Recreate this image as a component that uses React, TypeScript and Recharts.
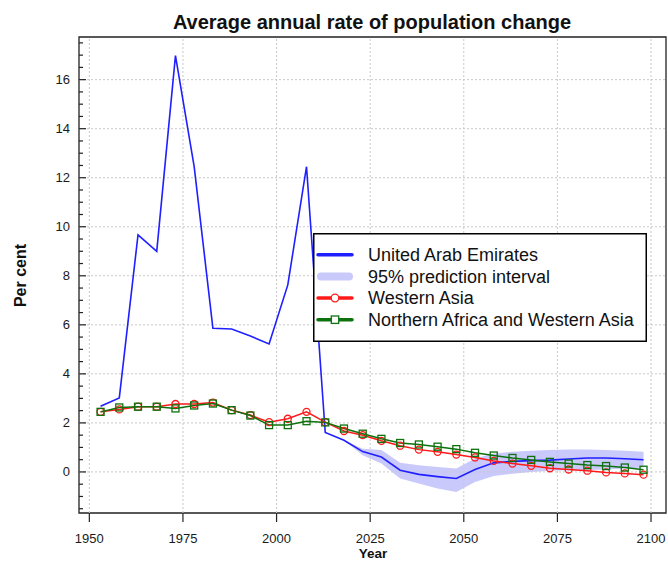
import React from 'react';
import { ComposedChart, Line, Area, XAxis, YAxis, ReferenceLine, ReferenceArea, Legend } from 'recharts';

const FONT = '"Liberation Sans", Arial, Helvetica, sans-serif';

const years = [1953, 1958, 1963, 1968, 1973, 1978, 1983, 1988, 1993, 1998, 2003, 2008, 2013, 2018, 2023, 2028, 2033, 2038, 2043, 2048, 2053, 2058, 2063, 2068, 2073, 2078, 2083, 2088, 2093, 2098];
const uae = [2.68, 3.02, 9.67, 9.0, 16.98, 12.45, 5.86, 5.83, 5.54, 5.22, 7.63, 12.45, 1.61, 1.29, 0.83, 0.61, 0.07, -0.1, -0.19, -0.27, 0.1, 0.37, 0.43, 0.46, 0.48, 0.53, 0.57, 0.57, 0.54, 0.5];
const bandLow: (number | null)[] = [null, null, null, null, null, null, null, null, null, null, null, null, null, 1.29, 0.68, 0.34, -0.27, -0.47, -0.68, -0.82, -0.41, -0.17, -0.07, 0.0, 0.05, 0.07, 0.08, 0.1, 0.14, 0.18];
const bandHigh: (number | null)[] = [null, null, null, null, null, null, null, null, null, null, null, null, null, 1.29, 0.95, 0.89, 0.37, 0.27, 0.2, 0.14, 0.55, 0.75, 0.82, 0.86, 0.89, 0.91, 0.91, 0.89, 0.86, 0.82];
const westernAsia = [2.45, 2.55, 2.66, 2.66, 2.77, 2.77, 2.83, 2.52, 2.32, 2.03, 2.17, 2.45, 2.03, 1.67, 1.5, 1.27, 1.07, 0.91, 0.82, 0.71, 0.59, 0.45, 0.34, 0.25, 0.15, 0.1, 0.05, -0.02, -0.06, -0.11];
const nafwa = [2.45, 2.63, 2.66, 2.66, 2.59, 2.71, 2.79, 2.52, 2.3, 1.91, 1.91, 2.07, 2.02, 1.77, 1.56, 1.35, 1.18, 1.12, 1.03, 0.93, 0.78, 0.67, 0.57, 0.49, 0.41, 0.34, 0.28, 0.24, 0.18, 0.09];

const xTicks = [1950, 1975, 2000, 2025, 2050, 2075, 2100];
const yMajorTicks = [0, 2, 4, 6, 8, 10, 12, 14, 16];
const yAllTicks = [-1.5, -1, -0.5, 0, 0.5, 1, 1.5, 2, 2.5, 3, 3.5, 4, 4.5, 5, 5.5, 6, 6.5, 7, 7.5, 8, 8.5, 9, 9.5, 10, 10.5, 11, 11.5, 12, 12.5, 13, 13.5, 14, 14.5, 15, 15.5, 16, 16.5, 17, 17.5];

const X_DOMAIN: [number, number] = [1947.24, 2104];
const Y_DOMAIN: [number, number] = [-1.675, 17.74];

const BLUE = '#1f1fff';
const RED = '#ff1a1a';
const GREEN = '#0d720d';
const BAND = '#c9c9fb';

const data = years.map((year, i) => ({
  year,
  uae: uae[i],
  band: bandLow[i] == null ? null : [bandLow[i], bandHigh[i]],
  western: westernAsia[i],
  nafwa: nafwa[i],
}));

const YTick = (props: any) => {
  const { x, y, payload } = props;
  const v = payload.value;
  const major = yMajorTicks.includes(v);
  return (
    <g>
      <line x1={x} x2={x + (major ? 7 : 4)} y1={y} y2={y} stroke="#222" strokeWidth={1.2} />
      {major && (
        <text x={x - 9} y={y} dy="0.35em" textAnchor="end" fontSize={13} fill="#1a1a1a" fontFamily={FONT}>
          {v}
        </text>
      )}
    </g>
  );
};

const SquareDot = (props: any) => {
  const { cx, cy, index } = props;
  if (cx == null || cy == null) return <g key={`sq-${index}`} />;
  return <rect key={`sq-${index}`} x={cx - 3.5} y={cy - 3.5} width={7} height={7} fill="none" stroke={GREEN} strokeWidth={1.3} />;
};

const legendRows = [
  { label: 'United Arab Emirates', kind: 'line', color: BLUE },
  { label: '95% prediction interval', kind: 'band', color: BAND },
  { label: 'Western Asia', kind: 'circle', color: RED },
  { label: 'Northern Africa and Western Asia', kind: 'square', color: GREEN },
];

const LegendBox = () => {
  const rowY = [21.7, 43.4, 65.0, 86.7];
  return (
    <svg width={334} height={109} style={{ display: 'block' }}>
      <rect x={0.75} y={0.75} width={332.5} height={107.5} fill="#fff" stroke="#000" strokeWidth={1.5} />
      {legendRows.map((r, i) => {
        const cy = rowY[i];
        return (
          <g key={r.label}>
            {r.kind === 'band' ? (
              <line x1={8} x2={36} y1={cy} y2={cy} stroke={r.color} strokeWidth={8} strokeLinecap="round" />
            ) : (
              <line x1={5} x2={39} y1={cy} y2={cy} stroke={r.color} strokeWidth={3.5} strokeLinecap="round" />
            )}
            {r.kind === 'circle' && <circle cx={22} cy={cy} r={3.8} fill="#fff" stroke={r.color} strokeWidth={1.3} />}
            {r.kind === 'square' && <rect x={18.3} y={cy - 3.7} width={7.4} height={7.4} fill="#fff" stroke={r.color} strokeWidth={1.3} />}
            <text x={55} y={cy} dy="0.35em" fontSize={18} fill="#111" fontFamily={FONT}>
              {r.label}
            </text>
          </g>
        );
      })}
    </svg>
  );
};

export default function App() {
  return (
    <div style={{ position: 'absolute', left: 0, top: 0, width: 668, height: 561, background: '#fff' }}>
      <ComposedChart
        width={668}
        height={561}
        data={data}
        margin={{ top: 37, right: 2, bottom: 0, left: 0 }}
        style={{ position: 'absolute', left: 0, top: 0 }}
      >
        {xTicks.map((t) => (
          <ReferenceLine key={`vx-${t}`} x={t} stroke="#c8c8c8" strokeDasharray="2 2" strokeWidth={1} />
        ))}
        {yMajorTicks.map((t) => (
          <ReferenceLine key={`hy-${t}`} y={t} stroke="#c8c8c8" strokeDasharray="2 2" strokeWidth={1} />
        ))}
        <XAxis
          dataKey="year"
          type="number"
          domain={X_DOMAIN}
          ticks={xTicks}
          allowDataOverflow
          axisLine={false}
          tickLine={{ stroke: '#222', strokeWidth: 1.2 }}
          tickSize={9}
          tickMargin={12}
          height={48}
          interval={0}
          tick={{ fontSize: 13, fill: '#1a1a1a', fontFamily: FONT }}
        />
        <YAxis
          type="number"
          domain={Y_DOMAIN}
          ticks={yAllTicks}
          allowDataOverflow
          axisLine={false}
          tickLine={false}
          tickSize={0}
          tickMargin={0}
          interval={0}
          width={79}
          tick={<YTick />}
        />
        <Area
          dataKey="band"
          type="linear"
          stroke="none"
          fill={BAND}
          fillOpacity={1}
          isAnimationActive={false}
          connectNulls={false}
          legendType="none"
        />
        <Line dataKey="uae" type="linear" stroke={BLUE} strokeWidth={1.6} dot={false} isAnimationActive={false} />
        <Line
          dataKey="western"
          type="linear"
          stroke={RED}
          strokeWidth={1.5}
          dot={{ r: 3.5, stroke: RED, strokeWidth: 1.3, fill: 'none' }}
          isAnimationActive={false}
        />
        <Line dataKey="nafwa" type="linear" stroke={GREEN} strokeWidth={1.5} dot={<SquareDot />} isAnimationActive={false} />
        <ReferenceArea
          x1={X_DOMAIN[0]}
          x2={X_DOMAIN[1]}
          y1={Y_DOMAIN[0]}
          y2={Y_DOMAIN[1]}
          fill="none"
          fillOpacity={0}
          stroke="#222"
          strokeWidth={1.3}
          ifOverflow="visible"
        />
        <Legend
          layout="horizontal"
          verticalAlign="middle"
          align="center"
          content={<LegendBox />}
          wrapperStyle={{ position: 'absolute', left: 313, top: 233, width: 334, height: 109 }}
        />
      </ComposedChart>
      <svg width={668} height={561} style={{ position: 'absolute', left: 0, top: 0, pointerEvents: 'none' }}>
        <text x={372} y={29} textAnchor="middle" fontSize={20} fontWeight="bold" fill="#111" fontFamily={FONT}>
          Average annual rate of population change
        </text>
        <text transform="translate(26,275.5) rotate(-90)" textAnchor="middle" fontSize={16} fontWeight="bold" fill="#111" fontFamily={FONT}>
          Per cent
        </text>
        <text x={373} y={558.3} textAnchor="middle" fontSize={13.5} fontWeight="bold" fill="#111" fontFamily={FONT}>
          Year
        </text>
      </svg>
    </div>
  );
}
